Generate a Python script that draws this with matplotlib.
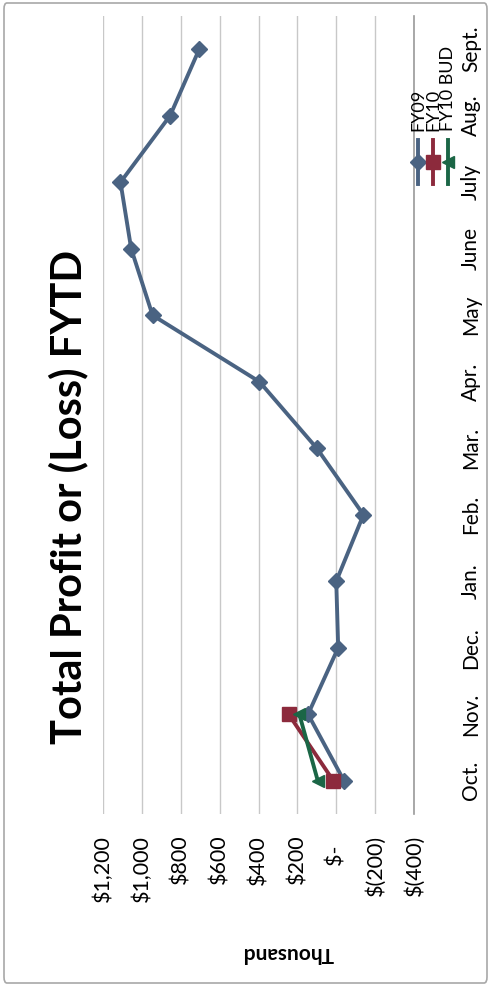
import matplotlib.pyplot as plt
from matplotlib.lines import Line2D
from matplotlib.patches import FancyBboxPatch

plt.rcParams["font.family"] = ["Lato", "DejaVu Sans"]

# Fiscal-year months, Oct -> Sept (drawn bottom to top)
months = ["Oct.", "Nov.", "Dec.", "Jan.", "Feb.", "Mar.", "Apr.",
          "May", "June", "July", "Aug.", "Sept."]

# Profit / (loss), in thousands of dollars
fy09 = [-40, 145, -10, 0, -140, 100, 395, 945, 1055, 1110, 855, 705]
fy10 = [15, 245]
fy10_bud = [95, 190]

value_ticks = [1200, 1000, 800, 600, 400, 200, 0, -200, -400]
value_labels = ["$1,200", "$1,000", "$800", "$600", "$400", "$200",
                "$-  ", "$(200)", "$(400)"]

series = [
    ("FY09", fy09, "#4a6382", "D", 8.5),
    ("FY10", fy10, "#8c2a3c", "s", 10.5),
    ("FY10 BUD", fy10_bud, "#1b6646", "<", 9),
]

W, H = 490, 993
fig = plt.figure(figsize=(W / 100, H / 100), dpi=100)
fig.patch.set_facecolor("white")

# chart is laid out sideways: values run along x (high on the left),
# months run up the y axis
left, right, top, bottom = 103, 414, 16, 814
ax = fig.add_axes([left / W, 1 - bottom / H, (right - left) / W, (bottom - top) / H])
ax.set_xlim(1200, -400)
ax.set_ylim(-0.5, len(months) - 0.5)

for name, vals, color, marker, ms in series:
    ax.plot(vals, range(len(vals)), color=color, lw=2.8, marker=marker,
            ms=ms, markeredgecolor=color, zorder=3)

ax.set_xticks(value_ticks)
ax.set_xticklabels(value_labels, rotation=90, fontsize=15.5)
ax.tick_params(axis="x", length=0, pad=15)
for lbl in ax.get_xticklabels():
    lbl.set_verticalalignment("top")

ax.yaxis.tick_right()
ax.set_yticks(range(len(months)))
ax.set_yticklabels(months, rotation=90, fontsize=15)
ax.tick_params(axis="y", length=0, pad=34)
for lbl in ax.get_yticklabels():
    lbl.set_verticalalignment("center")

ax.grid(axis="x", color="#c8c8c8", lw=1)
ax.set_axisbelow(True)
for side in ["left", "top", "bottom"]:
    ax.spines[side].set_visible(False)
ax.spines["right"].set_color("#9a9a9a")
ax.spines["right"].set_linewidth(1.2)

fig.text(68 / W, 1 - 497 / H, "Total Profit or (Loss) FYTD", rotation=90,
         ha="center", va="center", fontsize=30, fontweight="bold")
fig.text(288 / W, 1 - 953 / H, "Thousand", rotation=180,
         ha="center", va="center", fontsize=15, fontweight="bold")

# legend, stacked side by side and reading upward
for i, (name, vals, color, marker, ms) in enumerate(series):
    x = (418 + 15 * i) / W
    fig.add_artist(Line2D([x, x], [1 - 184 / H, 1 - 140 / H], color=color,
                          lw=2.8))
    fig.add_artist(Line2D([x], [1 - 162 / H], color=color, marker=marker,
                          ms=ms * 0.9, markeredgecolor=color, lw=0))
    fig.text(x, 1 - 131 / H, name, rotation=90, ha="center", va="bottom",
             fontsize=13)

fig.add_artist(FancyBboxPatch((4 / W, 10 / H), 483 / W, 980 / H,
                              boxstyle="round,pad=0,rounding_size=0.006",
                              fill=False, ec="#a8a8a8", lw=1.2,
                              transform=fig.transFigure))

fig.savefig("out.png", dpi=100)
